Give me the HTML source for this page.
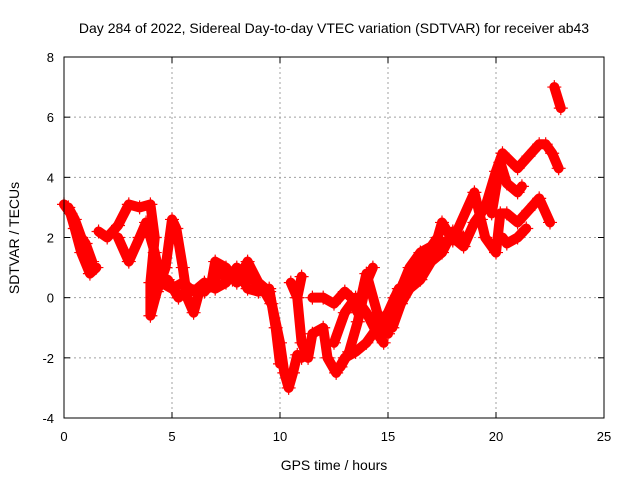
<!DOCTYPE html>
<html><head><meta charset="utf-8"><style>
body{margin:0;background:#fff}
svg{display:block;font-family:"Liberation Sans",sans-serif}
</style></head><body>
<svg id="c" width="640" height="480"></svg>
<script>
const xTicks=[0,5,10,15,20,25];
const yTicks=[-4,-2,0,2,4,6,8];
const trackA=[[0,3.1],[0.3,2.8],[0.5,2.3],[0.8,1.5],[1.2,0.8],[1.5,1.0]];
const trackA2=[[0.2,3.0],[0.5,2.6],[0.8,2.0],[1.0,1.8],[1.3,1.2]];
const trackB=[[1.6,2.2],[2,2.0],[2.5,2.4],[3,3.1],[3.5,3.0],[4,3.1],[4.2,2.0],[4.0,0.5],[4.0,-0.6],[4.3,0.2],[4.7,1.0],[5,2.6],[5.2,2.3],[5.5,1.0],[5.7,0],[6,-0.5],[6.3,0.3],[6.8,0.4],[7,1.2],[7.5,1.0],[8,0.5],[8.5,1.2],[9,0.5],[9.5,0.2],[10,-1.5],[10.2,-2.5],[10.4,-3.0],[10.6,-2.5],[10.8,-1.9],[11,-2.0]];
const trackC=[[2.5,2.0],[3,1.2],[3.5,2.0],[3.8,2.5],[4.2,1.5],[4.5,0.5],[5,0.3],[5.5,0.5],[6,0.2],[6.5,0.5],[7,0.3],[7.5,0.5],[8,1.0],[8.5,0.3],[9,0.2],[9.5,0.3],[9.8,-1.0],[10,-2.2]];
const trackC2=[[4.2,0.3],[4.8,0.6],[5.3,0.0],[5.8,0.3],[6.5,0.2],[7.2,0.8],[7.8,0.6],[8.3,0.9],[9.2,0.3],[9.6,-0.2]];
const trackD=[[10.5,0.5],[10.8,0],[11,-1.5],[11.3,-2.0],[11.5,-1.2],[12,-1.0],[12.2,-2.0],[12.6,-2.5],[13,-2.0],[13.5,-1.8],[14,-1.5],[14.5,-1.0],[15,-0.5],[15.5,0.3],[16,0.5],[16.5,1.0],[17,1.5],[17.5,1.8],[18,2.0],[18.5,1.7],[19,2.5],[19.5,3.0],[20,4.2],[20.3,4.8],[21,4.3],[21.5,4.7],[22,5.1],[22.3,5.1],[22.6,4.8],[22.9,4.3]];
const trackE=[[11.5,0],[12,0],[12.5,-0.2],[13,0.2],[13.3,0],[13.6,-0.5],[14,0.8],[14.5,-0.5],[15,-1.2],[15.3,0],[15.6,0.3],[16,1.0],[16.5,1.5],[17,1.7],[17.3,2.0],[17.5,2.5],[18,1.9],[19,3.5],[19.3,2.6],[19.5,2.0],[20,1.5],[20.2,2.8],[20.5,2.8],[21,2.5],[21.5,2.9],[22,3.3],[22.5,2.5]];
const trackF=[[12.5,-1.5],[13,-0.5],[13.5,0],[14,-0.5],[14.5,-1.2],[14.8,-1.5]];
const trackG=[[12.8,-2.3],[13.2,-1.8],[13.6,-0.8],[14,0.5],[14.3,1.0]];
const trackG2=[[15.2,-1.0],[15.6,-0.2],[16,0.3],[16.5,0.6],[17,1.2],[17.5,1.5],[18,2.2],[18.5,2.0]];
const trackH=[[19.8,2.8],[20.2,4.5],[20.5,3.8],[21,3.5],[21.2,3.7]];
const trackI=[[20.3,2.0],[20.5,1.8],[21,2.0],[21.4,2.3]];
const trackJ=[[10.8,0],[11,0.7]];
const trackK=[[22.7,7.0],[23,6.3]];
const tracks=[trackA,trackA2,trackB,trackC,trackC2,trackD,trackE,trackF,trackG,trackG2,trackH,trackI,trackJ,trackK];

const L=64,R=604,T=57,B=418;
const xs=v=>L+(v-0)/25*(R-L);
const ys=v=>B-(v+4)/12*(B-T);
const NS="http://www.w3.org/2000/svg";
const svg=document.getElementById('c');
function mk(t,a){const e=document.createElementNS(NS,t);for(const k in a)e.setAttribute(k,a[k]);svg.appendChild(e);return e;}

xTicks.forEach(v=>{
  if(v>0&&v<25){const g=mk('line',{x1:xs(v),x2:xs(v),y1:T,y2:B,stroke:'#a0a0a0','stroke-dasharray':'2,3'});
  
  }
  const t=mk('text',{x:xs(v),y:B+23,'text-anchor':'middle','font-size':13});t.textContent=v;
  
  
  mk('line',{x1:xs(v),x2:xs(v),y1:B,y2:B-6,stroke:'#000'});
  mk('line',{x1:xs(v),x2:xs(v),y1:T,y2:T+6,stroke:'#000'});
});
yTicks.forEach(v=>{
  if(v>-4&&v<8){const g=mk('line',{x1:L,x2:R,y1:ys(v),y2:ys(v),stroke:'#a0a0a0','stroke-dasharray':'2,3'});
  
  }
  const t=mk('text',{x:L-10,y:ys(v)+5,'text-anchor':'end','font-size':13});t.textContent=v;
  
  
  mk('line',{x1:L,x2:L+6,y1:ys(v),y2:ys(v),stroke:'#000'});
  mk('line',{x1:R,x2:R-6,y1:ys(v),y2:ys(v),stroke:'#000'});
});
tracks.forEach(tr=>{
  const p=mk('polyline',{points:tr.map(d=>xs(d[0])+','+ys(d[1])).join(' '),fill:'none',stroke:'#f00','stroke-width':10,'stroke-linejoin':'round','stroke-linecap':'round'});
  
  
  tr.forEach(d=>{
    const x=xs(d[0]),y=ys(d[1]);
    const m=mk('path',{d:`M${x-7},${y}H${x+7}M${x},${y-7}V${y+7}`,stroke:'#f00','stroke-width':1.2});
    
    
  });
});
const fr=mk('rect',{x:L,y:T,width:R-L,height:B-T,fill:'none',stroke:'#000'});


const ti=mk('text',{x:334,y:33,'text-anchor':'middle','font-size':14});
ti.textContent='Day 284 of 2022, Sidereal Day-to-day VTEC variation (SDTVAR) for receiver ab43';


const xt=mk('text',{x:334,y:470,'text-anchor':'middle','font-size':14});
xt.textContent='GPS time / hours';


const yt=mk('text',{x:0,y:0,'text-anchor':'middle','font-size':14,transform:'translate(19,238) rotate(-90)'});
yt.textContent='SDTVAR / TECUs';


</script>
</body></html>
